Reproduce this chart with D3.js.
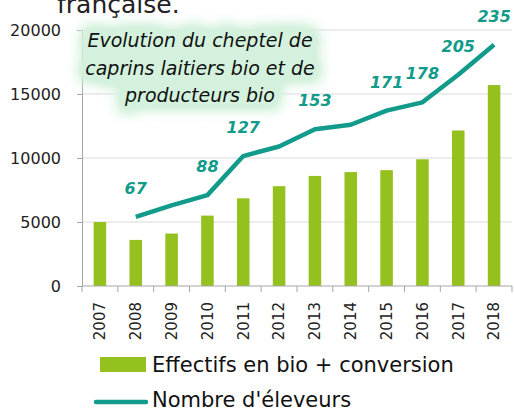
<!DOCTYPE html>
<html><head><meta charset="utf-8">
<script src="https://cdn.jsdelivr.net/npm/d3@7"></script>
<style>body{margin:0;background:#fff}svg{display:block}</style>
</head><body>
<svg id="c" width="514" height="412"></svg>
<script>
const years = ["2007","2008","2009","2010","2011","2012","2013","2014","2015","2016","2017","2018"];
const effectifs = [5000,3600,4100,5500,6850,7800,8600,8900,9050,9900,12150,15700];
const eleveursLine = [null,5400,6300,7100,10150,10900,12250,12600,13700,14350,16500,18850];
const labelYears = ["2008","2010","2011","2013","2015","2016","2017","2018"];
const labelValues = [67,88,127,153,171,178,205,235];
const yTicks = [0,5000,10000,15000,20000];
const titleLines = ["Evolution du cheptel de","caprins laitiers bio et de","producteurs bio"];
const legendItems = ["Effectifs en bio + conversion","Nombre d'éleveurs"];

const barColor = "#95c11f", lineColor = "#129b8a", font = "DejaVu Sans, sans-serif";
const svg = d3.select("#c");
const L = 82, R = 512, T = 30, B = 286;
const x = d3.scaleBand().domain(years).range([L, R]).paddingInner(0.65).paddingOuter(0.325);
const y = d3.scaleLinear().domain([0, 20000]).range([B, T]);
const cx = d => x(d) + x.bandwidth() / 2;

// top cut-off text
svg.append("text").attr("x", 57).attr("y", 13).attr("font-family", font).attr("font-size", 25)
  .attr("fill", "#222").text("française.");

// glow filter
const defs = svg.append("defs");
const f = defs.append("filter").attr("id", "glow").attr("x", "-40%").attr("y", "-80%").attr("width", "180%").attr("height", "260%");
f.append("feMorphology").attr("in", "SourceAlpha").attr("operator", "dilate").attr("radius", 7).attr("result", "d");
f.append("feGaussianBlur").attr("in", "d").attr("stdDeviation", 7).attr("result", "b");
const ct = f.append("feComponentTransfer").attr("in", "b").attr("result", "a");
ct.append("feFuncA").attr("type", "linear").attr("slope", 1.6);
f.append("feFlood").attr("flood-color", "#d3f1dc").attr("result", "c");
f.append("feComposite").attr("in", "c").attr("in2", "a").attr("operator", "in");

// gridlines
svg.append("g").selectAll("line").data(yTicks.filter(t => t > 0)).join("line")
  .attr("x1", L).attr("x2", R).attr("y1", d => y(d)).attr("y2", d => y(d))
  .attr("stroke", "#d9d9d9").attr("stroke-width", 1);

// y axis
const ya = svg.append("g").attr("transform", `translate(${L},0)`)
  .call(d3.axisLeft(y).tickValues(yTicks).tickSize(5).tickPadding(16).tickFormat(d3.format("d")));
ya.select(".domain").attr("stroke", "#a6a6a6");
ya.selectAll(".tick line").attr("stroke", "#a6a6a6");
ya.selectAll("text").attr("font-family", font).attr("font-size", 16).attr("fill", "#222");

// bars
svg.append("g").selectAll("rect").data(years).join("rect")
  .attr("x", d => x(d)).attr("width", x.bandwidth())
  .attr("y", (d, i) => y(effectifs[i])).attr("height", (d, i) => B - y(effectifs[i]))
  .attr("fill", barColor);

// x axis line and ticks at band boundaries
svg.append("line").attr("x1", L).attr("x2", R).attr("y1", B).attr("y2", B).attr("stroke", "#a6a6a6");
const bounds = d3.range(years.length + 1).map(i => L + i * x.step());
svg.append("g").selectAll("line").data(bounds).join("line")
  .attr("x1", d => d).attr("x2", d => d).attr("y1", B).attr("y2", B + 6).attr("stroke", "#a6a6a6");
svg.append("g").selectAll("text").data(years).join("text")
  .attr("transform", d => `translate(${cx(d)},302) rotate(-90)`)
  .attr("text-anchor", "end").attr("dy", "0.36em")
  .attr("font-family", font).attr("font-size", 15).attr("fill", "#222").text(d => d);

// title glow + title
const tg = svg.append("g").attr("filter", "url(#glow)");
const drawTitle = (g) => g.selectAll("text").data(titleLines).join("text")
  .attr("x", 200).attr("y", (d, i) => 47 + i * 27.5).attr("text-anchor", "middle")
  .attr("font-family", font).attr("font-size", 19).attr("font-style", "italic").attr("fill", "#111")
  .text(d => d);
drawTitle(tg);

// line
const pts = years.map((d, i) => [d, eleveursLine[i]]).filter(p => p[1] != null);
svg.append("path").datum(pts)
  .attr("d", d3.line().x(p => cx(p[0])).y(p => y(p[1])))
  .attr("fill", "none").attr("stroke", lineColor).attr("stroke-width", 4.5).attr("stroke-linejoin", "round");

// labels
svg.append("g").selectAll("text").data(labelYears).join("text")
  .attr("x", d => cx(d))
  .attr("y", (d, i) => y(eleveursLine[years.indexOf(d)]) - 23)
  .attr("text-anchor", "middle").attr("font-family", font).attr("font-size", 16)
  .attr("font-weight", "bold").attr("font-style", "italic").attr("fill", lineColor)
  .text((d, i) => labelValues[i]);

drawTitle(svg.append("g"));

// legend
svg.append("rect").attr("x", 100).attr("y", 357).attr("width", 46).attr("height", 15).attr("fill", barColor);
svg.append("line").attr("x1", 96).attr("x2", 146).attr("y1", 402).attr("y2", 402)
  .attr("stroke", lineColor).attr("stroke-width", 4.5).attr("stroke-linecap", "round");
svg.append("g").selectAll("text").data(legendItems).join("text")
  .attr("x", 152).attr("y", (d, i) => 372 + i * 35)
  .attr("font-family", font).attr("font-size", 21).attr("fill", "#111").text(d => d);
</script>
</body></html>
